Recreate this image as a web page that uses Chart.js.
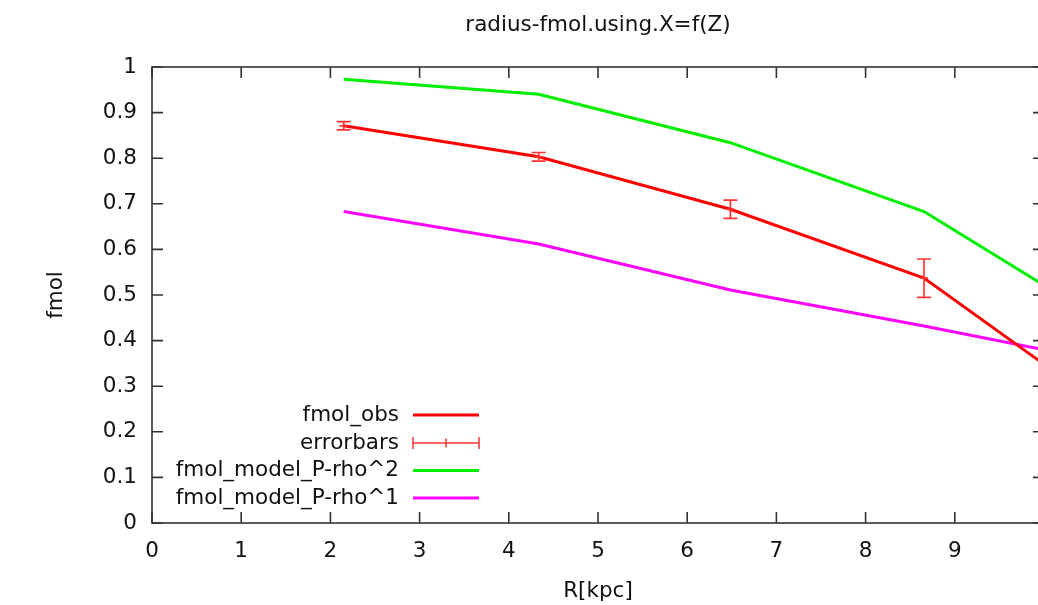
<!DOCTYPE html>
<html>
<head>
<meta charset="utf-8">
<script src="https://cdn.jsdelivr.net/npm/chart.js@4.4.1/dist/chart.umd.min.js"></script>
<style>
  html, body { margin: 0; padding: 0; background: #fff; overflow: hidden; width: 1038px; height: 605px; }
  #wrap { width: 1060px; height: 605px; }
</style>
</head>
<body>
<div id="wrap"><canvas id="fmolChart" width="1060" height="605"></canvas></div>
<script>
// values (R in kpc)
const radius = [2.149, 4.335, 6.484, 8.655, 10.82];
const fmolObs = [0.871, 0.803, 0.688, 0.537, 0.233];
const fmolErr = [0.009, 0.0095, 0.020, 0.042];
const fmolRho2 = [0.973, 0.940, 0.834, 0.683, 0.423];
const fmolRho1 = [0.683, 0.612, 0.511, 0.432, 0.348];

const chartTitle = "radius-fmol.using.X=f(Z)";
const seriesLabels = ["fmol_obs", "errorbars", "fmol_model_P-rho^2", "fmol_model_P-rho^1"];
const seriesColors = ["#ff0000", "#ff3333", "#00ee00", "#ff00ff"];

const FONT = "DejaVu Sans";
const FONT_SIZE = 21.5;
const TEXT = "#111";
Chart.defaults.font.family = FONT;
Chart.defaults.font.size = FONT_SIZE;
Chart.defaults.color = TEXT;

const toPoints = (ys) => ys.map((y, i) => ({ x: radius[i], y: y }));

// gnuplot-like frame with inward ticks on all four sides, plus the title over the plot
const framePlugin = {
  id: "frame",
  afterDraw(chart) {
    const { ctx, chartArea: a, scales } = chart;
    const len = 11;
    ctx.save();
    ctx.strokeStyle = "#333";
    ctx.lineWidth = 1.6;
    ctx.strokeRect(a.left, a.top, a.right - a.left, a.bottom - a.top);
    ctx.beginPath();
    scales.x.ticks.forEach((t) => {
      const px = scales.x.getPixelForValue(t.value);
      ctx.moveTo(px, a.bottom); ctx.lineTo(px, a.bottom - len);
      ctx.moveTo(px, a.top); ctx.lineTo(px, a.top + len);
    });
    scales.y.ticks.forEach((t) => {
      const py = scales.y.getPixelForValue(t.value);
      ctx.moveTo(a.left, py); ctx.lineTo(a.left + len, py);
      ctx.moveTo(a.right, py); ctx.lineTo(a.right - len, py);
    });
    ctx.stroke();

    ctx.font = FONT_SIZE + "px '" + FONT + "'";
    ctx.fillStyle = TEXT;
    ctx.textAlign = "center";
    ctx.textBaseline = "middle";
    ctx.fillText(chartTitle, (a.left + a.right) / 2, 25);
    ctx.restore();
  },
};

// error bars on fmol_obs
const errorBarPlugin = {
  id: "errorBars",
  afterDatasetsDraw(chart) {
    const { ctx, scales } = chart;
    const cap = 7;
    ctx.save();
    ctx.strokeStyle = seriesColors[1];
    ctx.lineWidth = 1.7;
    ctx.beginPath();
    fmolErr.forEach((err, i) => {
      const px = scales.x.getPixelForValue(radius[i]);
      const yTop = scales.y.getPixelForValue(fmolObs[i] + err);
      const yBot = scales.y.getPixelForValue(fmolObs[i] - err);
      const yMid = scales.y.getPixelForValue(fmolObs[i]);
      ctx.moveTo(px, yTop); ctx.lineTo(px, yBot);
      ctx.moveTo(px - cap, yTop); ctx.lineTo(px + cap, yTop);
      ctx.moveTo(px - cap, yBot); ctx.lineTo(px + cap, yBot);
      ctx.moveTo(px - 4, yMid); ctx.lineTo(px + 4, yMid);
    });
    ctx.stroke();
    ctx.restore();
  },
};

// key in the lower left, text right-aligned with the sample on its right
const keyPlugin = {
  id: "gnuKey",
  afterDraw(chart) {
    const { ctx } = chart;
    const textRight = 399;
    const x0 = 413, x1 = 479;
    const rows = [415, 443, 470.5, 498];
    ctx.save();
    ctx.font = FONT_SIZE + "px '" + FONT + "'";
    ctx.fillStyle = TEXT;
    ctx.textAlign = "right";
    ctx.textBaseline = "middle";
    seriesLabels.forEach((label, i) => {
      const y = rows[i];
      ctx.fillText(label, textRight, y);
      ctx.strokeStyle = seriesColors[i];
      ctx.beginPath();
      if (i === 1) {
        ctx.lineWidth = 1.5;
        ctx.moveTo(x0, y); ctx.lineTo(x1, y);
        ctx.moveTo(x0, y - 6); ctx.lineTo(x0, y + 6);
        ctx.moveTo(x1, y - 6); ctx.lineTo(x1, y + 6);
        ctx.moveTo(446, y - 4.5); ctx.lineTo(446, y + 4.5);
      } else {
        ctx.lineWidth = 3;
        ctx.moveTo(x0, y); ctx.lineTo(x1, y);
      }
      ctx.stroke();
    });
    ctx.restore();
  },
};

const lineStyle = { borderWidth: 3, pointRadius: 0, tension: 0, fill: false };

new Chart(document.getElementById("fmolChart").getContext("2d"), {
  type: "line",
  data: {
    datasets: [
      { label: seriesLabels[0], data: toPoints(fmolObs), borderColor: seriesColors[0], ...lineStyle },
      { label: seriesLabels[2], data: toPoints(fmolRho2), borderColor: seriesColors[2], ...lineStyle },
      { label: seriesLabels[3], data: toPoints(fmolRho1), borderColor: seriesColors[3], ...lineStyle },
    ],
  },
  options: {
    responsive: false,
    animation: false,
    layout: { padding: { top: 67, right: 10, left: 0, bottom: 0 } },
    plugins: {
      legend: { display: false },
      tooltip: { enabled: false },
      title: { display: false },
    },
    scales: {
      x: {
        type: "linear",
        min: 0,
        max: 10,
        grid: { display: false, drawTicks: false },
        border: { display: false },
        ticks: {
          stepSize: 1,
          padding: 16,
          maxRotation: 0,
          callback: (v) => (v === 10 ? "" : String(v)),
        },
        title: { display: true, text: "R[kpc]", padding: { top: 12, bottom: 1 } },
        afterFit: (s) => { s.height = 82; },
      },
      y: {
        min: 0,
        max: 1,
        grid: { display: false, drawTicks: false },
        border: { display: false },
        ticks: {
          stepSize: 0.1,
          padding: 15,
          callback: (v) => String(Number(v.toFixed(1))),
        },
        title: { display: true, text: "fmol", padding: { top: 44 } },
        afterFit: (s) => { s.width = 152; },
      },
    },
  },
  plugins: [framePlugin, errorBarPlugin, keyPlugin],
});
</script>
</body>
</html>
